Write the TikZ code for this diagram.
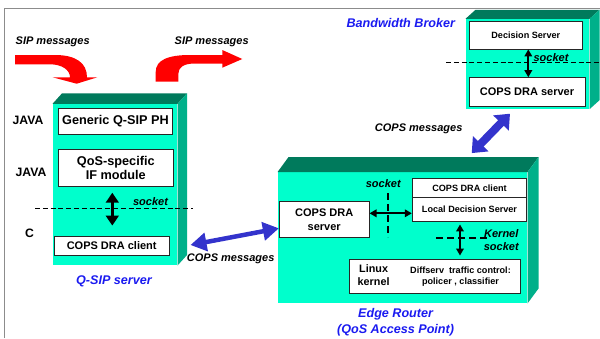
\documentclass[tikz,border=0pt]{standalone}
\usepackage{fontspec}
\setmainfont{Liberation Sans}
\usetikzlibrary{arrows.meta}
\definecolor{frontc}{HTML}{00FFCC}
\definecolor{topc}{HTML}{007A5C}
\definecolor{sidec}{HTML}{00B08A}
\definecolor{arrowblue}{HTML}{3333CC}
\definecolor{titleblue}{HTML}{1A1AF0}
\definecolor{framegray}{HTML}{8C8C8C}
\definecolor{sipred}{HTML}{FF0000}
\newcommand\cubefaces[3]{%
  \fill[topc] (#1.north west) -- ++(#2,-#3) -- ([shift={(#2,-#3)}]#1.north east) -- (#1.north east) -- cycle;
  \fill[sidec] (#1.north east) -- ++(#2,-#3) -- ([shift={(#2,-#3)}]#1.south east) -- (#1.south east) -- cycle;}
\begin{document}
\begin{tikzpicture}[x=1pt,y=-1pt,
  front/.style={fill=frontc, draw=none, inner sep=0pt},
  box/.style={draw=black!85, fill=white, line width=0.9pt, inner sep=0pt, align=center},
  tbig/.style={font=\fontsize{12.7}{14}\selectfont\bfseries},
  tmid/.style={font=\fontsize{11}{14}\selectfont\bfseries},
  tsmall/.style={font=\fontsize{9.1}{11.6}\selectfont\bfseries},
  tital/.style={font=\fontsize{11}{13.4}\selectfont\bfseries\itshape, inner sep=0pt, align=center},
  ttitle/.style={font=\fontsize{12.6}{16}\selectfont\bfseries\itshape, text=titleblue, inner sep=0pt, align=center},
  lab/.style={inner sep=0pt, align=center},
  dashthin/.style={line width=0.9pt, dash pattern=on 5pt off 2.8pt},
  dashthick/.style={line width=1.8pt, dash pattern=on 7pt off 4pt},
  bigdbl/.style={line width=3.3pt, {Triangle[length=10pt,width=12.7pt]}-{Triangle[length=10pt,width=12.7pt]}},
  smalldbl/.style={line width=1.8pt, {Triangle[length=7pt,width=7.5pt]}-{Triangle[length=7pt,width=7.5pt]}},
  bluedblA/.style={draw=arrowblue, line width=4.5pt, {Triangle[length=16pt,width=18pt]}-{Triangle[length=16pt,width=18pt]}},
  bluedblB/.style={draw=arrowblue, line width=8pt, {Triangle[length=13pt,width=21pt]}-{Triangle[length=13pt,width=21pt]}}
]
\useasboundingbox (0,0) rectangle (600,338);
% frame
\draw[framegray, line width=1pt] (4.3,338) -- (4.3,8.3) -- (600,8.3);

% SIP message arrows
\fill[sipred] (15,55) -- (55,55) .. controls (76,55) and (87,63) .. (87,77.3) -- (97.3,77.3) -- (76.7,83.7) -- (52.7,77.3) -- (70,77.3) .. controls (70,70) and (62,64.3) .. (50,64.3) -- (15,64.3) -- cycle;
\fill[sipred] (155.7,81.7) -- (155.7,72) .. controls (155.7,60) and (168,55) .. (190,55) -- (222.3,55) -- (222.3,50) -- (242.3,59) -- (222.3,67.7) -- (222.3,63.5) -- (195,63.5) .. controls (184,63.5) and (178.3,67) .. (178.3,74) -- (178.3,81.7) -- cycle;
\node[tital] (sip1) at (52.7,41.7) {SIP messages};
\node[tital] (sip2) at (211.7,41.7) {SIP messages};

% 3D boxes
\node[front, minimum width=124.6, minimum height=161.3] (qs) at (115,184.7) {};
\cubefaces{qs}{9.5}{10.5}
\node[front, minimum width=123.6, minimum height=90] (bb) at (527.5,64) {};
\cubefaces{bb}{10}{9}
\node[front, minimum width=249.6, minimum height=131] (er) at (402.5,237.8) {};
\cubefaces{er}{11}{15}

% Q-SIP server contents
\node[box, tbig, minimum width=114.4, minimum height=25.7] (gen) at (115.5,121.2) {Generic Q-SIP PH};
\node[box, tbig, minimum width=115, minimum height=37.7] (qos) at (115.8,167.8) {QoS-specific\\IF module};
\node[box, tmid, minimum width=114.7, minimum height=19.3] (qclient) at (111.7,245.7) {COPS DRA client};
\node[lab, font=\fontsize{12.2}{14}\selectfont\bfseries] (java1) at (28,120.7) {JAVA};
\node[lab, font=\fontsize{12.2}{14}\selectfont\bfseries] (java2) at (31,172.7) {JAVA};
\node[lab, font=\fontsize{12.2}{14}\selectfont\bfseries] (clang) at (29.5,233.3) {C};
\draw[dashthin] (35,208.3) -- (192.7,208.3);
\node[tital] (sock1) at (150.5,202) {socket};
\coordinate (xa) at (112.3,0);
\draw[bigdbl, shorten <=5.6pt, shorten >=10pt] (qos.south -| xa) -- (qclient.north -| xa);
\node[ttitle] (qsiplab) at (114,281.7) {Q-SIP server};

% Bandwidth broker contents
\node[box, tsmall, minimum width=113.7, minimum height=27.3] (dec) at (525.8,35.3) {Decision Server};
\node[box, tmid, minimum width=116, minimum height=28.3] (bbserver) at (527,91.8) {COPS DRA server};
\draw[dashthin] (446,62.3) -- (600,62.3);
\coordinate (xb) at (528.3,0);
\draw[smalldbl] (dec.south -| xb) -- (bbserver.north -| xb);
\node[tital] (sock2) at (551,57.3) {socket};
\node[ttitle] (bblab) at (400.8,22.7) {Bandwidth Broker};
\node[tital] (cops2) at (418.7,128.3) {COPS messages};

% Edge router contents
\node[box, tmid, minimum width=89.7, minimum height=36] (eserver) at (324.2,219.7) {COPS DRA\\server};
\node[box, tsmall, minimum width=114.4, minimum height=19] (eclient) at (469.5,187.8) {COPS DRA client};
\node[box, tsmall, minimum width=114.4, minimum height=24.4] (elocal) at (469.5,209.5) {Local Decision Server};
\node[box, minimum width=171.4, minimum height=34] (linux) at (435,276.3) {};
\node[lab, font=\fontsize{10.8}{13.4}\selectfont\bfseries] (lintext) at (373.6,275) {Linux\\kernel};
\node[lab, tsmall] (difftext) at (460.5,276.5) {Diffserv\ \ traffic control:\\policer , classifier};
\draw[dashthick] (388.3,193.3) -- (388.3,237.3);
\draw[dashthick] (436,237.7) -- (488.3,237.7);
\node[tital] (sock3) at (383.3,183.3) {socket};
\node[tital] (ksock) at (501.3,240) {Kernel\\socket};
\coordinate (ya) at (0,213.3);
\draw[smalldbl] (eserver.east |- ya) -- (elocal.west |- ya);
\coordinate (xc) at (460,0);
\draw[smalldbl, shorten <=2.3pt, shorten >=3.3pt] (elocal.south -| xc) -- (linux.north -| xc);
\node[ttitle] (erlab) at (395.6,322) {Edge Router\\(QoS Access Point)};

% COPS message connectors
\draw[bluedblA] ([xshift=21pt,yshift=0.7pt]qclient.east) -- ([yshift=-8.6pt]eserver.west);
\node[tital] (cops1) at (230.7,258.3) {COPS messages};
\draw[bluedblB] ([xshift=-17pt,yshift=-7.3pt]bbserver.south) -- ([xshift=69.2pt,yshift=19pt]er.north);
\end{tikzpicture}
\end{document}
